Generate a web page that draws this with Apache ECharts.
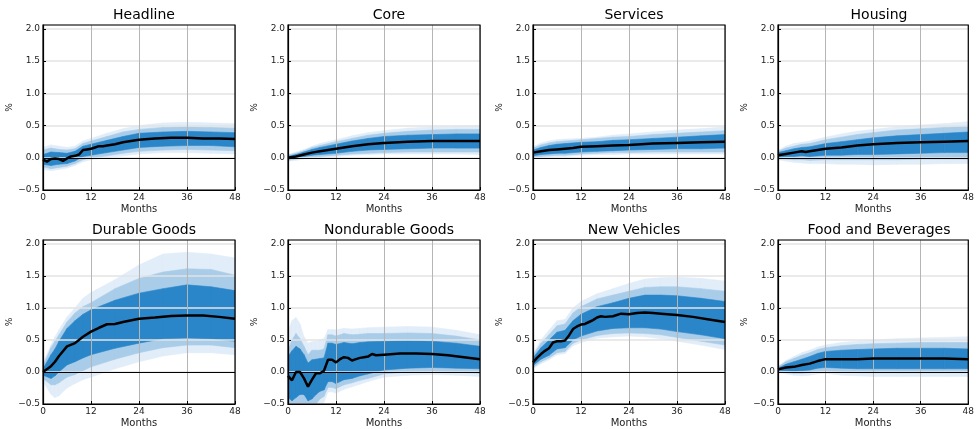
<!DOCTYPE html>
<html>
<head>
<meta charset="utf-8">
<script src="https://cdn.jsdelivr.net/npm/echarts@6/dist/echarts.min.js"></script>
<style>
  html, body { margin: 0; padding: 0; background: #fff; }
  #chart { width: 977px; height: 429px; }
</style>
</head>
<body>
<div id="chart"></div>
<script>
// ---- data ----
const titles = ['Headline', 'Core', 'Services', 'Housing',
  'Durable Goods', 'Nondurable Goods', 'New Vehicles', 'Food and Beverages'];

// Headline
const headlineMonths = [0,1,2,3,4,5,6,7,8,9,10,11,12,13,14,15,16,18,20,22,24,28,32,36,40,44,48];
const headlineMedian = [-0.03,-0.06,-0.02,-0.01,-0.02,-0.05,-0.01,0.02,0.03,0.05,0.12,0.13,0.14,0.16,0.18,0.18,0.19,0.21,0.24,0.26,0.28,0.30,0.31,0.31,0.30,0.30,0.29];
const headlineBandX = [0,2,4,6,8,10,12,16,20,24,30,36,42,48];
const headlineHi68 = [0.05,0.09,0.08,0.07,0.10,0.18,0.21,0.27,0.33,0.38,0.40,0.41,0.40,0.39];
const headlineLo68 = [-0.10,-0.12,-0.10,-0.09,-0.05,0.02,0.04,0.08,0.12,0.16,0.18,0.19,0.19,0.17];
const headlineHi90 = [0.12,0.15,0.13,0.12,0.14,0.22,0.26,0.33,0.40,0.44,0.47,0.48,0.47,0.46];
const headlineLo90 = [-0.14,-0.17,-0.15,-0.13,-0.09,-0.03,0.00,0.03,0.07,0.10,0.12,0.13,0.12,0.11];
const headlineHi95 = [0.16,0.20,0.18,0.16,0.18,0.26,0.30,0.38,0.45,0.50,0.54,0.55,0.54,0.53];
const headlineLo95 = [-0.18,-0.20,-0.18,-0.16,-0.12,-0.06,-0.03,0.00,0.03,0.06,0.08,0.08,0.07,0.06];

// Core
const coreMonths = [0,2,4,6,8,10,12,16,20,24,30,36,42,48];
const coreMedian = [0.00,0.02,0.05,0.08,0.10,0.12,0.14,0.18,0.21,0.23,0.25,0.26,0.26,0.26];
const coreBandX = [0,2,4,6,8,12,16,20,24,30,36,42,48];
const coreHi68 = [0.02,0.05,0.09,0.13,0.16,0.21,0.26,0.30,0.33,0.35,0.36,0.37,0.37];
const coreLo68 = [-0.02,0.00,0.02,0.04,0.05,0.07,0.10,0.12,0.13,0.14,0.15,0.15,0.15];
const coreHi90 = [0.04,0.07,0.11,0.16,0.19,0.25,0.30,0.35,0.38,0.41,0.43,0.44,0.44];
const coreLo90 = [-0.04,-0.02,0.00,0.01,0.02,0.04,0.06,0.07,0.08,0.09,0.09,0.09,0.09];
const coreHi95 = [0.05,0.09,0.13,0.18,0.22,0.28,0.34,0.39,0.42,0.46,0.48,0.49,0.50];
const coreLo95 = [-0.05,-0.04,-0.02,-0.01,0.00,0.02,0.04,0.05,0.06,0.06,0.06,0.06,0.05];

// Services
const servicesMonths = [0,2,4,6,8,10,12,16,20,24,30,36,42,48];
const servicesMedian = [0.08,0.10,0.12,0.13,0.14,0.15,0.17,0.18,0.19,0.20,0.22,0.23,0.24,0.25];
const servicesBandX = [0,2,4,6,8,12,16,20,24,30,36,42,48];
const servicesHi68 = [0.12,0.16,0.19,0.21,0.22,0.24,0.25,0.27,0.28,0.30,0.32,0.34,0.36];
const servicesLo68 = [0.03,0.05,0.06,0.07,0.07,0.09,0.10,0.11,0.12,0.13,0.14,0.14,0.15];
const servicesHi90 = [0.15,0.20,0.23,0.25,0.26,0.28,0.30,0.32,0.33,0.36,0.38,0.40,0.42];
const servicesLo90 = [0.01,0.02,0.03,0.04,0.04,0.06,0.07,0.08,0.08,0.09,0.09,0.09,0.09];
const servicesHi95 = [0.17,0.23,0.26,0.28,0.29,0.30,0.32,0.35,0.37,0.40,0.43,0.45,0.48];
const servicesLo95 = [0.00,0.00,0.01,0.02,0.02,0.04,0.05,0.05,0.06,0.06,0.06,0.06,0.06];

// Housing
const housingMonths = [0,2,4,6,7,8,10,12,16,20,24,30,36,42,48];
const housingMedian = [0.04,0.06,0.08,0.10,0.09,0.10,0.12,0.14,0.16,0.19,0.21,0.23,0.24,0.25,0.26];
const housingBandX = [0,2,4,6,8,12,16,20,24,30,36,42,48];
const housingHi68 = [0.08,0.11,0.14,0.16,0.17,0.22,0.25,0.28,0.31,0.34,0.36,0.38,0.40];
const housingLo68 = [0.00,0.02,0.02,0.03,0.02,0.04,0.04,0.05,0.05,0.06,0.07,0.08,0.08];
const housingHi90 = [0.10,0.15,0.18,0.21,0.22,0.28,0.32,0.36,0.39,0.43,0.45,0.47,0.49];
const housingLo90 = [-0.02,-0.02,-0.03,-0.03,-0.04,-0.03,-0.03,-0.03,-0.03,-0.03,-0.02,-0.02,-0.02];
const housingHi95 = [0.12,0.18,0.22,0.24,0.26,0.32,0.37,0.41,0.44,0.48,0.51,0.53,0.56];
const housingLo95 = [-0.03,-0.05,-0.07,-0.08,-0.09,-0.09,-0.10,-0.10,-0.11,-0.10,-0.10,-0.09,-0.09];

// Durable Goods
const durableMonths = [0,2,3,4,6,8,10,12,14,16,18,20,24,28,32,36,40,44,48];
const durableMedian = [0.00,0.09,0.16,0.25,0.40,0.45,0.55,0.63,0.69,0.745,0.75,0.78,0.83,0.85,0.875,0.88,0.88,0.86,0.83];
const durableBandX = [0,2,3,4,6,8,10,12,18,24,30,36,42,48];
const durableHi68 = [0.05,0.27,0.36,0.48,0.68,0.80,0.90,0.97,1.12,1.23,1.30,1.36,1.33,1.27];
const durableLo68 = [-0.05,-0.10,-0.06,0.00,0.11,0.16,0.22,0.27,0.37,0.45,0.52,0.53,0.52,0.48];
const durableHi90 = [0.10,0.38,0.48,0.58,0.78,0.92,1.02,1.08,1.30,1.46,1.56,1.61,1.60,1.51];
const durableLo90 = [-0.10,-0.20,-0.20,-0.17,-0.08,-0.04,0.02,0.08,0.20,0.30,0.38,0.42,0.42,0.38];
const durableHi95 = [0.15,0.42,0.55,0.66,0.86,1.00,1.15,1.24,1.44,1.67,1.84,1.87,1.84,1.78];
const durableLo95 = [-0.15,-0.35,-0.40,-0.37,-0.25,-0.18,-0.12,-0.08,0.05,0.16,0.25,0.30,0.30,0.27];

// Nondurable Goods
const nondurMonths = [0,1,2,3,4,5,6,7,8,9,10,11,12,13,14,15,16,17,18,19,20,21,22,24,28,32,36,40,44,48];
const nondurMedian = [-0.06,-0.13,0.00,0.00,-0.10,-0.23,-0.12,-0.02,-0.02,0.02,0.19,0.19,0.15,0.20,0.23,0.22,0.18,0.20,0.22,0.23,0.24,0.28,0.26,0.27,0.29,0.29,0.28,0.26,0.23,0.20];
const nondurBandX = [0,1,2,3,4,5,6,7,8,9,10,11,12,14,16,18,20,24,30,36,42,48];
const nondurHi68 = [0.24,0.33,0.40,0.36,0.27,0.14,0.19,0.20,0.21,0.22,0.45,0.45,0.43,0.46,0.44,0.46,0.47,0.48,0.49,0.48,0.45,0.40];
const nondurLo68 = [-0.40,-0.45,-0.40,-0.35,-0.35,-0.45,-0.42,-0.35,-0.30,-0.28,-0.15,-0.15,-0.18,-0.12,-0.10,-0.06,-0.03,0.03,0.06,0.07,0.06,0.05];
const nondurHi90 = [0.34,0.50,0.60,0.52,0.40,0.27,0.34,0.34,0.34,0.36,0.58,0.58,0.56,0.60,0.58,0.59,0.60,0.60,0.61,0.60,0.56,0.50];
const nondurLo90 = [-0.55,-0.62,-0.58,-0.50,-0.52,-0.62,-0.58,-0.50,-0.42,-0.38,-0.24,-0.24,-0.26,-0.20,-0.17,-0.13,-0.10,-0.03,0.00,0.01,0.00,-0.02];
const nondurHi95 = [0.63,0.80,0.85,0.75,0.55,0.45,0.47,0.48,0.50,0.52,0.66,0.66,0.66,0.68,0.67,0.68,0.69,0.70,0.71,0.70,0.65,0.58];
const nondurLo95 = [-0.65,-0.75,-0.70,-0.62,-0.65,-0.78,-0.72,-0.62,-0.52,-0.47,-0.31,-0.31,-0.33,-0.27,-0.23,-0.19,-0.15,-0.08,-0.05,-0.04,-0.05,-0.07];

// New Vehicles
const vehiclesMonths = [0,1,2,3,4,5,6,7,8,9,10,11,12,13,14,15,16,17,18,20,22,24,26,28,30,32,36,40,44,48];
const vehiclesMedian = [0.15,0.22,0.28,0.33,0.37,0.46,0.48,0.48,0.49,0.57,0.67,0.71,0.74,0.75,0.78,0.81,0.85,0.87,0.86,0.87,0.91,0.90,0.92,0.93,0.92,0.91,0.89,0.86,0.82,0.78];
const vehiclesBandX = [0,2,4,6,8,10,12,16,20,24,28,32,36,42,48];
const vehiclesHi68 = [0.22,0.38,0.50,0.62,0.65,0.80,0.90,1.02,1.08,1.15,1.20,1.20,1.19,1.15,1.10];
const vehiclesLo68 = [0.10,0.20,0.26,0.36,0.38,0.50,0.56,0.64,0.68,0.69,0.69,0.67,0.63,0.58,0.52];
const vehiclesHi90 = [0.26,0.45,0.58,0.72,0.75,0.92,1.02,1.14,1.20,1.26,1.32,1.33,1.33,1.30,1.26];
const vehiclesLo90 = [0.07,0.16,0.22,0.30,0.32,0.45,0.50,0.57,0.60,0.61,0.60,0.58,0.54,0.48,0.42];
const vehiclesHi95 = [0.29,0.50,0.65,0.80,0.82,1.00,1.10,1.22,1.30,1.38,1.45,1.47,1.48,1.46,1.42];
const vehiclesLo95 = [0.05,0.13,0.19,0.27,0.29,0.41,0.46,0.53,0.55,0.56,0.55,0.52,0.48,0.42,0.35];

// Food and Beverages
const foodMonths = [0,2,4,6,8,10,12,16,20,24,30,36,42,48];
const foodMedian = [0.04,0.07,0.08,0.11,0.13,0.17,0.20,0.20,0.20,0.21,0.21,0.21,0.21,0.20];
const foodBandX = [0,2,4,6,8,10,12,16,20,24,30,36,42,48];
const foodHi68 = [0.06,0.12,0.16,0.20,0.24,0.29,0.32,0.34,0.35,0.36,0.37,0.37,0.37,0.36];
const foodLo68 = [0.02,0.02,0.01,0.02,0.03,0.06,0.07,0.06,0.05,0.05,0.05,0.05,0.05,0.05];
const foodHi90 = [0.08,0.16,0.21,0.26,0.30,0.35,0.38,0.41,0.43,0.44,0.45,0.46,0.46,0.46];
const foodLo90 = [0.00,-0.01,-0.02,-0.02,-0.01,0.01,0.02,0.00,-0.01,-0.01,-0.01,-0.01,-0.01,-0.01];
const foodHi95 = [0.09,0.18,0.24,0.30,0.34,0.39,0.42,0.46,0.48,0.50,0.52,0.53,0.54,0.55];
const foodLo95 = [-0.01,-0.03,-0.05,-0.06,-0.05,-0.03,-0.02,-0.05,-0.06,-0.07,-0.07,-0.07,-0.07,-0.07];

// ---- panels ----
const panels = [
  [headlineMonths, headlineMedian, headlineBandX, [headlineLo95, headlineHi95], [headlineLo90, headlineHi90], [headlineLo68, headlineHi68]],
  [coreMonths, coreMedian, coreBandX, [coreLo95, coreHi95], [coreLo90, coreHi90], [coreLo68, coreHi68]],
  [servicesMonths, servicesMedian, servicesBandX, [servicesLo95, servicesHi95], [servicesLo90, servicesHi90], [servicesLo68, servicesHi68]],
  [housingMonths, housingMedian, housingBandX, [housingLo95, housingHi95], [housingLo90, housingHi90], [housingLo68, housingHi68]],
  [durableMonths, durableMedian, durableBandX, [durableLo95, durableHi95], [durableLo90, durableHi90], [durableLo68, durableHi68]],
  [nondurMonths, nondurMedian, nondurBandX, [nondurLo95, nondurHi95], [nondurLo90, nondurHi90], [nondurLo68, nondurHi68]],
  [vehiclesMonths, vehiclesMedian, vehiclesBandX, [vehiclesLo95, vehiclesHi95], [vehiclesLo90, vehiclesHi90], [vehiclesLo68, vehiclesHi68]],
  [foodMonths, foodMedian, foodBandX, [foodLo95, foodHi95], [foodLo90, foodHi90], [foodLo68, foodHi68]]
];

const bandColors = ['#e1edf8', '#a9cce9', '#2a86c8'];
const font = 'DejaVu Sans';
const lefts = [43, 288, 533, 778];
const tops = [25, 240];
const W = 192, H = 165;

// one quad per segment between two band months: [x0, lo0, hi0, x1, lo1, hi1]
function renderBand(params, api) {
  const a = api.coord([api.value(0), api.value(1)]);
  const b = api.coord([api.value(3), api.value(4)]);
  const c = api.coord([api.value(3), api.value(5)]);
  const d = api.coord([api.value(0), api.value(2)]);
  const color = api.visual('color');
  return {
    type: 'polygon',
    shape: { points: [a, b, c, d] },
    style: { fill: color, stroke: color, lineWidth: 0.6 }
  };
}

let grids = [], xAxes = [], yAxes = [], series = [], titleList = [];

panels.forEach((p, i) => {
  const left = lefts[i % 4], top = tops[Math.floor(i / 4)];
  grids.push({ left: left, top: top, width: W, height: H, show: true,
    borderColor: '#000', borderWidth: 1.2, z: 6 });
  titleList.push({ text: titles[i], left: left + W / 2, top: top - 22, textAlign: 'center',
    textStyle: { fontFamily: font, fontSize: 14, fontWeight: 'normal', color: '#000' } });
  xAxes.push({ gridIndex: i, type: 'value', min: 0, max: 48, interval: 12, z: 5,
    name: 'Months', nameLocation: 'middle', nameGap: 14,
    nameTextStyle: { fontFamily: font, fontSize: 10, color: '#222' },
    axisLine: { show: true, onZero: false, lineStyle: { color: '#000', width: 1.2 } },
    axisTick: { show: true, inside: true, length: 3, lineStyle: { color: '#000' } },
    axisLabel: { fontFamily: font, fontSize: 9, color: '#222', margin: 3 },
    splitLine: { show: true, lineStyle: { color: '#b5b5b5', width: 1 } } });
  yAxes.push({ gridIndex: i, type: 'value', min: -0.5, max: 2.06, interval: 0.5, z: 5,
    name: '%', nameLocation: 'middle', nameGap: 27,
    nameTextStyle: { fontFamily: font, fontSize: 9, color: '#222' },
    axisLine: { show: true, lineStyle: { color: '#000', width: 1.2 } },
    axisTick: { show: true, inside: true, length: 3, lineStyle: { color: '#000' } },
    axisLabel: { fontFamily: font, fontSize: 9, color: '#222', margin: 3, showMaxLabel: false,
      formatter: v => v.toFixed(1).replace('-', '\u2212') },
    splitLine: { show: true, lineStyle: { color: '#e3e3e3', width: 1.5 } } });

  const bx = p[2];
  [p[3], p[4], p[5]].forEach((band, b) => {
    const lo = band[0], hi = band[1];
    const rows = [];
    for (let k = 0; k < bx.length - 1; k++) {
      rows.push([bx[k], lo[k], hi[k], bx[k + 1], lo[k + 1], hi[k + 1]]);
    }
    series.push({ type: 'custom', xAxisIndex: i, yAxisIndex: i, clip: true, silent: true,
      z: 1 + b * 0.1, itemStyle: { color: bandColors[b] },
      renderItem: renderBand,
      encode: { x: [0, 3], y: [1, 2, 4, 5] },
      data: rows });
  });

  series.push({ type: 'line', xAxisIndex: i, yAxisIndex: i, symbol: 'none', silent: true, z: 10,
    lineStyle: { color: '#000', width: 2.5 },
    data: p[0].map((m, k) => [m, p[1][k]]),
    markLine: { silent: true, symbol: 'none', label: { show: false },
      lineStyle: { color: '#000', width: 1, type: 'solid' },
      data: [{ yAxis: 0 }] } });
});

const chart = echarts.init(document.getElementById('chart'));
chart.setOption({
  animation: false,
  backgroundColor: '#fff',
  title: titleList,
  grid: grids,
  xAxis: xAxes,
  yAxis: yAxes,
  series: series
});
</script>
</body>
</html>
